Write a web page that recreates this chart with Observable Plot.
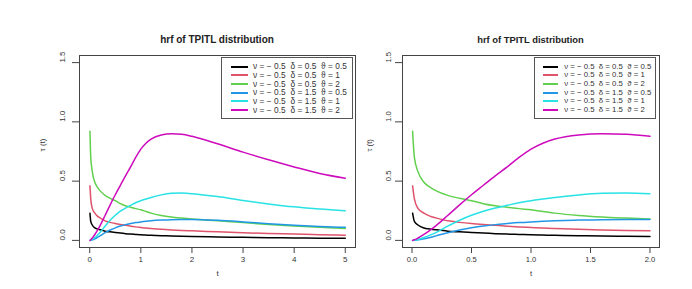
<!DOCTYPE html>
<html><head><meta charset="utf-8">
<script src="https://cdn.jsdelivr.net/npm/d3@7"></script>
<script src="https://cdn.jsdelivr.net/npm/@observablehq/plot@0.6"></script>
<style>
body{margin:0;background:#fff;font-family:"Liberation Sans",Arial,sans-serif;}
#wrap{position:relative;width:692px;height:289px;overflow:hidden;background:#fff;}
#wrap svg{position:absolute;left:0;top:0;background:transparent;}
.title{position:absolute;font-weight:bold;color:#222;transform:translateX(-50%);white-space:nowrap;line-height:1;}
.legend{position:absolute;border:1px solid #555;box-sizing:border-box;background:#fff;}
.lrow{position:absolute;left:0;white-space:pre;color:#333;line-height:1;}
.lline{position:absolute;height:2px;}
</style>
</head><body>
<div id="wrap"></div>
<script>
// time grid (shared by both panels)
const tGrid = [0.005, 0.02, 0.05, 0.1, 0.15, 0.2, 0.3, 0.4, 0.5, 0.6, 0.7, 0.8, 0.9, 1.0, 1.1, 1.2, 1.4, 1.6, 1.8, 2.0, 2.5, 3.0, 3.5, 4.0, 4.5, 5.0];
// hazard values
const hBlack   = [0.23, 0.16, 0.13, 0.105, 0.097, 0.09, 0.078, 0.072, 0.066, 0.062, 0.057, 0.053, 0.05, 0.047, 0.045, 0.043, 0.04, 0.037, 0.035, 0.033, 0.029, 0.026, 0.023, 0.021, 0.019, 0.018];
const hRed     = [0.46, 0.35, 0.27, 0.23, 0.205, 0.19, 0.165, 0.152, 0.142, 0.134, 0.127, 0.12, 0.114, 0.109, 0.104, 0.1, 0.093, 0.088, 0.084, 0.081, 0.072, 0.064, 0.058, 0.053, 0.048, 0.044];
const hGreen   = [0.92, 0.7, 0.58, 0.49, 0.45, 0.42, 0.38, 0.355, 0.335, 0.31, 0.292, 0.28, 0.268, 0.258, 0.244, 0.23, 0.21, 0.197, 0.188, 0.18, 0.165, 0.15, 0.135, 0.122, 0.11, 0.1];
const hBlue    = [0, 0.001, 0.005, 0.013, 0.025, 0.038, 0.065, 0.088, 0.106, 0.121, 0.133, 0.142, 0.15, 0.156, 0.161, 0.165, 0.171, 0.175, 0.176, 0.176, 0.169, 0.156, 0.141, 0.128, 0.118, 0.11];
const hCyan    = [0, 0.002, 0.008, 0.024, 0.044, 0.066, 0.12, 0.17, 0.212, 0.246, 0.273, 0.296, 0.318, 0.335, 0.349, 0.362, 0.384, 0.397, 0.4, 0.394, 0.37, 0.337, 0.308, 0.283, 0.264, 0.25];
const hMagenta = [0, 0.005, 0.02, 0.05, 0.085, 0.123, 0.21, 0.3, 0.385, 0.465, 0.545, 0.62, 0.7, 0.77, 0.82, 0.855, 0.89, 0.9, 0.895, 0.878, 0.815, 0.745, 0.68, 0.62, 0.565, 0.525];

const seriesLabels = [
  "ν = − 0.5  δ = 0.5  ϑ = 0.5",
  "ν = − 0.5  δ = 0.5  ϑ = 1",
  "ν = − 0.5  δ = 0.5  ϑ = 2",
  "ν = − 0.5  δ = 1.5  ϑ = 0.5",
  "ν = − 0.5  δ = 1.5  ϑ = 1",
  "ν = − 0.5  δ = 1.5  ϑ = 2"
];
const seriesColors = ["#000000", "#DF536B", "#61D04F", "#2297E6", "#28E2E5", "#CD0BBC"];
const seriesValues = [hBlack, hRed, hGreen, hBlue, hCyan, hMagenta];

const titleText = "hrf of TPITL distribution";
const xLabel = "t";
const yLabel = "τ (t)";
const yTicks = [0, 0.5, 1, 1.5];
const xTicksLeft = [0, 1, 2, 3, 4, 5];
const xTicksRight = [0, 0.5, 1, 1.5, 2];

const rows = [];
seriesValues.forEach((vals, s) => vals.forEach((v, i) => rows.push({t: tGrid[i], v, s})));

const wrap = document.getElementById("wrap");

function panel(cfg) {
  const data = rows.filter(d => d.t <= cfg.xMax + 1e-9);
  const fs = cfg.fs;
  const chart = Plot.plot({
    width: 692, height: 289,
    marginLeft: cfg.ml, marginRight: cfg.mr, marginTop: 55, marginBottom: 42,
    x: {domain: [-0.04 * cfg.xMax, 1.04 * cfg.xMax], axis: null},
    y: {domain: [-0.06, 1.56], axis: null},
    style: {background: "transparent", fontFamily: "Liberation Sans, Arial, sans-serif", color: "#333"},
    marks: [
      ...seriesColors.map((c, s) => Plot.line(data.filter(d => d.s === s), {x: "t", y: "v", stroke: c, strokeWidth: 1.5, curve: "monotone-x"})),
      Plot.frame({stroke: "#444", strokeWidth: 1}),
      Plot.axisX(cfg.xTicks, {anchor: "bottom", tickSize: 6, tickPadding: 3, tickFormat: cfg.xFmt, label: null, fontSize: fs, stroke: "#444"}),
      Plot.axisY(yTicks, {anchor: "left", tickSize: 7, tickFormat: () => "", label: null, stroke: "#444"}),
      Plot.text(yTicks, {y: d => d, text: d => d3.format(".1f")(d), frameAnchor: "left", dx: cfg.ytdx, rotate: -90, fontSize: fs, fill: "#333"}),
      Plot.text([xLabel], {text: d => d, frameAnchor: "bottom", dy: 28, fontSize: fs, fill: "#333"}),
      Plot.text([yLabel], {text: d => d, frameAnchor: "left", dx: cfg.yldx, rotate: -90, fontSize: fs, fill: "#333"})
    ]
  });
  wrap.appendChild(chart);

  const t = document.createElement("div");
  t.className = "title";
  t.textContent = titleText;
  t.style.left = cfg.tx + "px";
  t.style.top = cfg.ty + "px";
  t.style.fontSize = cfg.tfs + "px";
  wrap.appendChild(t);

  const lg = document.createElement("div");
  lg.className = "legend";
  lg.style.left = cfg.lg[0] + "px";
  lg.style.top = cfg.lg[1] + "px";
  lg.style.width = cfg.lg[2] + "px";
  lg.style.height = cfg.lg[3] + "px";
  seriesLabels.forEach((lab, i) => {
    const yy = 8.7 * i + 8.5;
    const ln = document.createElement("div");
    ln.className = "lline";
    ln.style.background = seriesColors[i];
    ln.style.left = cfg.lline[0] + "px";
    ln.style.width = cfg.lline[1] + "px";
    ln.style.top = (yy - 1) + "px";
    lg.appendChild(ln);
    const tx = document.createElement("div");
    tx.className = "lrow";
    tx.textContent = lab;
    tx.style.left = cfg.ltext + "px";
    tx.style.top = (yy - cfg.lfs * 0.5) + "px";
    tx.style.fontSize = cfg.lfs + "px";
    tx.style.letterSpacing = cfg.lls + "px";
    lg.appendChild(tx);
  });
  wrap.appendChild(lg);
}

panel({xMax: 5, ml: 79, mr: 692 - 355, xTicks: xTicksLeft, xFmt: d3.format("d"), fs: 8, ytdx: -17, yldx: -37,
       tx: 217, ty: 35, tfs: 10, lg: [221, 57, 132, 62], lline: [9, 17], ltext: 31, lfs: 8.3, lls: 0.05});
panel({xMax: 2, ml: 402, mr: 692 - 659, xTicks: xTicksRight, xFmt: d3.format(".1f"), fs: 7.6, ytdx: -14, yldx: -33,
       tx: 530.5, ty: 34.5, tfs: 9.4, lg: [533.7, 57, 122.5, 62], lline: [8, 15], ltext: 29.5, lfs: 7.8, lls: 0}); 
</script>
</body></html>
